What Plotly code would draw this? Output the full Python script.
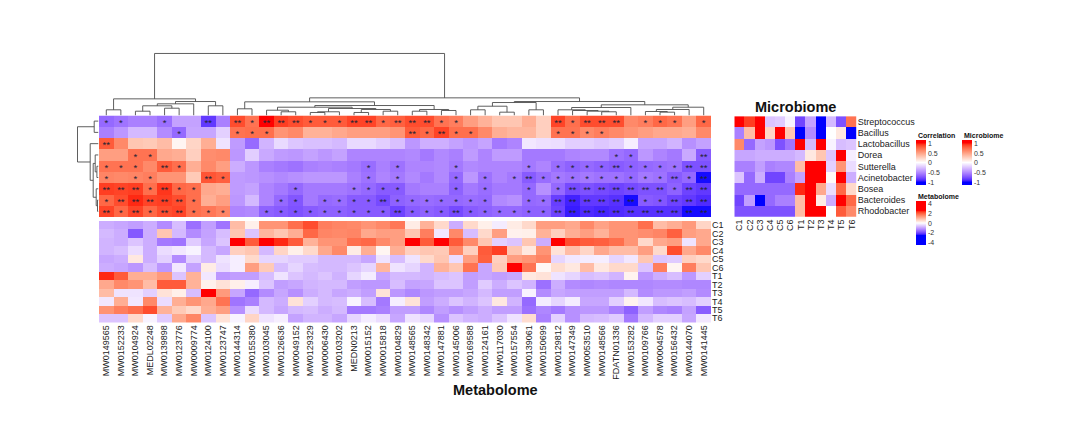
import numpy as np
import plotly.graph_objects as go

W, H = 1080, 432

metabolites = ["MW0149565","MW0152233","MW0104924","MEDL02248","MW0139898","MW0123776","MW0009774","MW0124100","MW0123747",
 "MW0144314","MW0155380","MW0103045","MW0126636","MW0049152","MW0129329","MW0006430","MW0103202","MEDN0213","MW0015152","MW0015818","MW0104829",
 "MW0148565","MW0148342","MW0147881","MW0145006","MW0169588","MW0124161","MW0117030","MW0157554","MW0139061","MW0150699",
 "MW0129812","MW0147349","MW0053510","MW0148566","FDATN01336","MW0153282","MW0109766","MW0004578","MW0156432","MW0144070","MW0141445"]
samples = ["C1","C2","C3","C4","C5","C6","T1","T2","T3","T4","T5","T6"]
genera = ["Streptococcus","Bacillus","Lactobacillus","Dorea","Sutterella","Acinetobacter","Bosea","Bacteroides","Rhodobacter"]

correlation = [
 [-.65,-.6,-.55,-.55,-.62,-.4,-.4,-.85,-.55,.85,.7,1,.9,.85,.8,.8,.8,.88,.88,.75,.78,.85,.85,.7,.65,.5,.4,.3,.3,.42,.25,.88,.72,.85,.85,.85,.6,.65,.75,.7,.5,.75],
 [-.55,-.45,-.3,-.3,-.5,-.65,-.38,-.38,-.2,.7,.72,.72,.55,.6,.4,.4,.45,.5,.5,.5,.55,.8,.75,.88,.72,.72,.6,.42,.38,.38,.25,.7,.7,.6,.65,.6,.55,.5,.45,.45,.42,.6],
 [.8,.6,.3,.28,.35,.05,.22,.42,-.12,-.43,-.64,-.32,-.16,-.24,-.27,-.27,-.3,-.16,-.16,-.21,-.27,-.45,-.34,-.34,-.4,-.45,-.39,-.58,-.53,-.1,-.13,-.14,-.21,-.21,-.24,-.21,-.07,-.38,-.38,-.32,-.48,-.4],
 [.5,.5,.7,.7,.45,.42,.25,.58,.6,-.45,-.21,-.37,-.43,-.45,-.4,-.45,-.4,-.53,-.53,-.53,-.53,-.51,-.58,-.51,-.55,-.43,-.53,-.43,-.43,-.58,-.58,-.58,-.53,-.51,-.51,-.61,-.65,-.45,-.53,-.58,-.37,-.71],
 [.7,.7,.7,.6,.8,.72,.42,.6,.5,-.35,-.45,-.55,-.58,-.61,-.55,-.53,-.55,-.58,-.63,-.55,-.61,-.53,-.53,-.51,-.58,-.51,-.53,-.53,-.53,-.58,-.53,-.63,-.68,-.65,-.68,-.71,-.68,-.65,-.63,-.61,-.75,-.75],
 [.62,.6,.62,.65,.55,.55,.28,.82,.78,-.43,-.45,-.48,-.51,-.48,-.45,-.45,-.45,-.55,-.61,-.53,-.58,-.51,-.58,-.51,-.65,-.45,-.61,-.53,-.58,-.71,-.63,-.58,-.61,-.58,-.61,-.61,-.65,-.58,-.61,-.71,-.65,-.98],
 [.9,.88,.9,.72,.92,.75,.72,.45,.42,-.43,-.4,-.53,-.58,-.65,-.58,-.58,-.58,-.61,-.65,-.71,-.71,-.58,-.55,-.55,-.68,-.58,-.63,-.58,-.58,-.65,-.48,-.65,-.78,-.75,-.78,-.81,-.78,-.75,-.75,-.68,-.81,-.85],
 [.75,.85,.95,.88,.9,.85,.72,.42,.5,-.45,-.3,-.53,-.65,-.73,-.58,-.65,-.63,-.71,-.71,-.78,-.68,-.65,-.63,-.65,-.65,-.63,-.65,-.51,-.48,-.65,-.63,-.83,-.93,-.85,-.85,-.88,-.98,-.71,-.73,-.81,-.85,-.9],
 [.88,.75,.88,.75,.85,.88,.72,.68,.62,-.53,-.51,-.68,-.71,-.75,-.71,-.68,-.68,-.71,-.71,-.71,-.81,-.71,-.68,-.71,-.78,-.71,-.68,-.65,-.65,-.68,-.68,-.81,-.95,-.9,-.92,-.9,-.88,-.88,-.88,-.88,-.98,-.98],
]

significance = [
 "110010020"+"212221112212"+"2211000000"+"21222011101",
 "000001000"+"111000000000"+"2121100000"+"11110000000",
 "200000000"+"000000000000"+"0000000000"+"00000000000",
 "001100000"+"000000000000"+"0000000000"+"00001100002",
 "111021000"+"000000000101"+"0001000010"+"11112111122",
 "101100021"+"000000000101"+"0001010121"+"11111111212",
 "222121100"+"000010001111"+"0001010010"+"12222222122",
 "122222100"+"000110111121"+"1111110011"+"22222211222",
 "212122111"+"001111111112"+"1112111111"+"22222222222",
]

# metabolome z-scores, expressed as a fraction of the colour limit
metabolome_fraction = [
 [-.35,-.38,-.42,-.35,-.5,-.28,-.62,-.42,-.6,.35,.08,.55,.55,.72,.85,.65,.62,.6,.55,.6,.68,.1,.4,.2,-.35,.2,.08,-.08,.1,.2,.5,.5,.45,.6,.48,.55,.55,.72,.35,.42,.52,.22],
 [-.3,-.35,-.72,-.35,.3,-.3,-.5,-.4,-.28,.3,-.25,.38,.3,.42,.75,.62,.6,.62,.45,.5,.5,.3,.65,-.1,.6,-.28,.2,.5,.07,.08,.4,.25,.42,.5,.4,.55,.55,.58,.62,.78,.5,.45],
 [-.32,-.35,-.25,-.35,-.58,-.6,-.22,-.38,-.25,1,.8,1,.95,.8,.4,.55,.55,.72,.75,.6,.5,1,.8,1,.8,.6,.3,-.2,-.25,.3,-.35,1,.85,.8,.78,.72,.55,.2,.45,.5,-.12,.45],
 [-.32,-.28,-.15,-.35,-.15,-.1,-.05,-.3,-.38,.25,.3,-.3,.22,.08,.2,.45,.6,.1,.42,.05,.42,.25,.3,.28,.6,.25,.8,.9,.3,.12,.55,.15,.35,.22,.45,.35,.35,.5,.2,.85,.45,.6],
 [-.38,-.35,.12,-.35,-.2,-.5,-.2,-.3,-.12,-.07,.2,-.18,-.18,-.22,-.22,-.3,-.3,-.3,-.38,-.12,-.28,-.12,.2,.3,-.15,.5,.78,.25,.5,.55,.62,-.18,-.1,-.08,-.07,-.18,-.1,.3,-.25,-.22,.25,.2],
 [-.35,-.38,-.45,-.28,-.45,-.1,-.4,.1,-.15,-.07,.5,.28,-.28,-.18,-.28,-.3,-.3,-.25,-.18,.38,-.12,-.18,-.32,.4,.3,.7,-.38,.28,1,.7,.04,.18,.12,.35,.12,.2,.2,-.25,.65,.05,.65,.3],
 [.95,.8,.42,.42,.52,-.25,.4,-.1,-.45,-.42,-.42,-.28,-.12,-.25,-.3,-.25,-.33,-.18,-.08,-.38,-.3,-.3,-.32,-.28,-.25,-.42,-.38,-.42,-.38,.12,.15,-.12,-.18,-.28,-.25,-.32,.06,-.45,-.35,-.28,-.45,-.2],
 [.45,.6,.55,.35,.8,.8,.4,.07,.15,.08,-.07,-.25,-.42,-.38,-.32,-.3,-.3,-.42,-.45,-.45,-.28,-.4,-.38,-.25,-.25,-.42,-.22,-.35,-.25,-.32,-.62,-.35,-.5,-.52,-.5,-.52,-.52,-.52,-.5,-.5,-.52,-.52],
 [.35,-.12,-.12,-.2,.15,.08,-.28,1,.52,-.38,-.65,-.5,-.38,-.48,-.35,-.3,-.38,-.35,-.42,.15,-.45,-.52,-.45,-.42,-.42,-.38,-.3,-.42,-.42,-.05,-.5,-.38,-.42,-.42,-.42,-.42,-.3,-.5,-.45,-.45,-.42,-.5],
 [-.1,.42,-.1,.6,-.15,.42,.55,.45,.7,-.6,-.55,-.3,-.35,.15,-.2,-.3,-.28,-.05,-.28,-.58,-.07,.15,-.42,-.35,-.25,-.32,-.25,.12,-.32,-.65,-.08,-.18,-.08,-.38,-.38,-.2,.06,-.1,-.28,-.25,-.28,-.2],
 [.55,.65,.72,.85,.4,.28,.2,.42,.5,-.48,-.15,-.3,-.38,-.3,-.28,-.35,-.3,-.58,-.58,-.55,-.42,-.42,-.52,-.42,-.48,-.42,-.35,-.42,-.42,-.62,-.52,-.58,-.48,-.45,-.45,-.55,-.68,-.42,-.52,-.55,-.4,-.7],
 [-.25,-.25,.2,-.05,-.22,.45,.62,-.25,.15,-.05,.22,-.12,-.07,-.4,-.32,-.32,-.38,-.18,-.08,-.15,-.38,-.12,-.18,-.48,-.25,-.32,-.35,-.25,-.12,.18,-.55,-.2,-.48,-.3,-.28,-.22,-.58,-.3,-.2,-.2,-.38,-.1],
]
METABOLOME_LIMIT = 2.5

microbiome = [
 [1,.9,1,-.25,-.22,-.05,-.8,-.4,-1,-.3,-.75,.7],
 [-.55,.35,1,.22,1,.3,-1,-.5,-1,0,.12,-1],
 [.6,-.65,-.4,-.45,-.75,-.6,1,-.3,1,-.05,-.28,-.25],
 [-.38,-.38,-.35,-.35,-.35,-.35,-.3,.12,.3,-.25,1,-.07],
 [-.55,-.55,-.42,-.55,-.52,-.52,.35,1,1,-.2,.55,-.15],
 [-.25,-.65,-.35,-.8,-.8,-.55,-.4,1,1,.03,1,-.35],
 [-.65,-.65,-.65,-.65,-.65,-.65,.95,1,.45,-.15,.75,.2],
 [-.8,-.42,-1,-.65,-.55,-.55,.35,1,.1,-.35,1,.75],
 [-.75,-.75,-.75,-.75,-.75,-.75,.35,1,1,0,.8,.6],
]

# dendrograms: (left, right, merge height); integers are leaf indexes
column_tree = (
 ((0,1,5.7),(((((2,3,4.3),(4,5,7.3),9.7),6,11.7)),(7,8,9.7),14),16.7),
 (((9,10,6.7),
   (((11,(12,13,3.7),5.3),(((14,15,3),16,3.7),((17,18,3),(19,20,4.3),6),7),8.3),
    ((21,22,4.3),(23,24,5),6),10),13.7),
  ((((25,26,5.7),(27,28,3.3),9.3),(29,30,5.7),13),
   (((31,(32,(33,(34,35,3.7),4.3),5),5.7),36,8),
    (((37,(38,39,3.3),4),40,6),41,8.3),10.7),14),17.7),
 62.3)
row_tree = ((0,1,4.3),(2,((3,(4,5,1.6),3.3),(6,(7,8,1),2.3),5.3),8.3),21)


def srgb_to_lab(c):
    c = np.array(c) / 255
    l = np.where(c > .04045, ((c + .055) / 1.055) ** 2.4, c / 12.92)
    m = np.array([[.4124, .3576, .1805], [.2126, .7152, .0722], [.0193, .1192, .9505]])
    xyz = m @ l / np.array([.95047, 1, 1.08883])
    f = np.where(xyz > .008856, np.cbrt(xyz), 7.787 * xyz + 16 / 116)
    return np.array([116 * f[1] - 16, 500 * (f[0] - f[1]), 200 * (f[1] - f[2])])


def lab_to_srgb(lab):
    fy = (lab[0] + 16) / 116
    f = np.array([fy + lab[1] / 500, fy, fy - lab[2] / 200])
    xyz = np.where(f ** 3 > .008856, f ** 3, (f - 16 / 116) / 7.787) * np.array([.95047, 1, 1.08883])
    m = np.array([[3.2406, -1.5372, -.4986], [-.9689, 1.8758, .0415], [.0557, -.2040, 1.0570]])
    l = np.clip(m @ xyz, 0, 1)
    c = np.where(l > .0031308, 1.055 * l ** (1 / 2.4) - .055, 12.92 * l)
    return "rgb(%d,%d,%d)" % tuple(np.round(c * 255).astype(int))


def ramp(limit, extent):
    """blue-white-red interpolated in Lab, saturating at +/-limit, for a z range of +/-extent."""
    blue, white, red = map(srgb_to_lab, ([0, 0, 255], [255, 255, 255], [255, 0, 0]))
    stops = [[0, lab_to_srgb(blue)]]
    for t in np.linspace(-1, 1, 41):
        lab = white + (blue - white) * (-t) if t < 0 else white + (red - white) * t
        stops.append([float((t * limit + extent) / (2 * extent)), lab_to_srgb(lab)])
    stops.append([1, lab_to_srgb(red)])
    return stops


def walk(node, xs, ys):
    if isinstance(node, int):
        return float(node), 0.0
    a, b, h = node
    pa, ha = walk(a, xs, ys)
    pb, hb = walk(b, xs, ys)
    xs += [pa, pa, pb, pb, None]
    ys += [ha, h, h, hb, None]
    return (pa + pb) / 2, h


def dx(a, b):
    return [a / W, b / W]


def dy(top, bottom):
    return [1 - bottom / H, 1 - top / H]


FONT = "Liberation Sans"
CORR_EXT, MET_EXT = 1.15, 4.48
fig = go.Figure()


def cbar(x, top, height, vals, texts):
    return dict(x=x / W, xanchor="left", y=1 - top / H, yanchor="top", len=height, lenmode="pixels",
                thickness=9.5, thicknessmode="pixels", xpad=0, ypad=0, outlinewidth=0, ticks="",
                tickvals=vals, ticktext=texts, ticklabelposition="outside",
                tickfont=dict(family=FONT, size=7, color="#333333"))


fig.add_trace(go.Heatmap(z=correlation, xaxis="x", yaxis="y", colorscale=ramp(1, CORR_EXT), zmin=-CORR_EXT, zmax=CORR_EXT,
                         colorbar=cbar(916, 140, 45, [1, .5, 0, -.5, -1], ["1", "0.5", "0", "-0.5", "-1"]), hoverinfo="skip"))
fig.add_trace(go.Heatmap(z=np.array(metabolome_fraction) * METABOLOME_LIMIT, xaxis="x2", yaxis="y2",
                         colorscale=ramp(METABOLOME_LIMIT, MET_EXT), zmin=-MET_EXT, zmax=MET_EXT,
                         colorbar=cbar(916, 201, 44, [4, 2, 0, -2, -4], ["4", "2", "0", "-2", "-4"]), hoverinfo="skip"))
fig.add_trace(go.Heatmap(z=microbiome, xaxis="x3", yaxis="y3", colorscale=ramp(1, CORR_EXT), zmin=-CORR_EXT, zmax=CORR_EXT,
                         colorbar=cbar(962, 140, 45, [1, .5, 0, -.5, -1], ["1", "0.5", "0", "-0.5", "-1"]), hoverinfo="skip"))

# significance marks, on an axis nudged down so the asterisk glyphs sit in the middle of their cells
sx, sy, st = [], [], []
for r, row in enumerate(significance):
    for c, n in enumerate(row):
        if n != "0":
            sx.append(c); sy.append(r); st.append("*" * int(n))
fig.add_trace(go.Scatter(x=sx, y=sy, text=st, mode="text", xaxis="x4", yaxis="y4", hoverinfo="skip", showlegend=False,
                         textposition="middle center", textfont=dict(family=FONT, size=9.5, color="#222233")))

LINE = dict(color="#4d4d4d", width=0.9)
cx, cy = [], []
walk(column_tree, cx, cy)
fig.add_trace(go.Scatter(x=cx, y=cy, mode="lines", line=LINE, xaxis="x5", yaxis="y5", hoverinfo="skip", showlegend=False))
rx, ry = [], []
walk(row_tree, ry, rx)
fig.add_trace(go.Scatter(x=rx, y=ry, mode="lines", line=LINE, xaxis="x6", yaxis="y6", hoverinfo="skip", showlegend=False))

n_col, n_row = len(metabolites), len(genera)
hide = dict(showgrid=False, zeroline=False, showticklabels=False, ticks="", showline=False)
lab = dict(family=FONT, size=9, color="#222222")
fig.update_layout(
    width=W, height=H, autosize=False, margin=dict(l=0, r=0, t=0, b=0), paper_bgcolor="white", plot_bgcolor="rgba(0,0,0,0)",
    showlegend=False, font=dict(family=FONT),
    xaxis=dict(domain=dx(99, 711), range=[-.5, n_col - .5], anchor="y", **hide),
    yaxis=dict(domain=dy(115, 217), range=[n_row - .5, -.5], anchor="x", **hide),
    xaxis2=dict(domain=dx(99, 711), range=[-.5, n_col - .5], anchor="y2", tickmode="array", tickvals=list(range(n_col)),
                ticktext=metabolites, tickangle=-90, tickfont=lab, showgrid=False, zeroline=False, ticks=""),
    yaxis2=dict(domain=dy(221, 323), range=[11.5, -.5], anchor="x2", side="right", tickmode="array", tickvals=list(range(12)),
                ticktext=samples, tickfont=lab, showgrid=False, zeroline=False, ticks=""),
    xaxis3=dict(domain=dx(734.3, 856.7), range=[-.5, 11.5], anchor="y3", tickmode="array", tickvals=list(range(12)),
                ticktext=samples, tickangle=-90, tickfont=lab, showgrid=False, zeroline=False, ticks=""),
    yaxis3=dict(domain=dy(115.7, 216.7), range=[n_row - .5, -.5], anchor="x3", side="right", tickmode="array",
                tickvals=list(range(n_row)), ticktext=genera, tickfont=lab, showgrid=False, zeroline=False, ticks=""),
    xaxis4=dict(domain=dx(99, 711), range=[-.5, n_col - .5], anchor="y4", **hide),
    yaxis4=dict(domain=dy(115, 217), range=[n_row - .5 - .2, -.5 - .2], anchor="x4", **hide),
    xaxis5=dict(domain=dx(99, 711), range=[-.5, n_col - .5], anchor="y5", **hide),
    yaxis5=dict(domain=dy(50, 115), range=[0, 65], anchor="x5", **hide),
    xaxis6=dict(domain=dx(76, 98.5), range=[22.5, 0], anchor="y6", **hide),
    yaxis6=dict(domain=dy(115, 217), range=[n_row - .5, -.5], anchor="x6", **hide),
)


def label(text, x, y, size, anchor="center"):
    fig.add_annotation(text="<b>%s</b>" % text, x=x / W, y=1 - y / H, xref="paper", yref="paper", showarrow=False,
                       xanchor=anchor, yanchor="middle", font=dict(family=FONT, size=size, color="#111111"))


label("Metabolome", 495, 391, 14.5)
label("Microbiome", 795, 106, 14.5)
label("Correlation", 916, 135, 7, "left")
label("Microbiome", 962, 135, 7, "left")
label("Metabolome", 916, 196, 7, "left")

fig.write_html("out.html", config=dict(displayModeBar=False),
               post_script="document.body.style.margin='0';document.body.style.overflow='hidden';")
